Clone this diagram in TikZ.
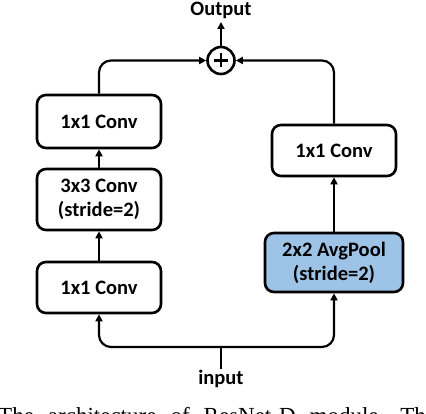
\documentclass[tikz,border=0pt]{standalone}
\usepackage{fontspec}
\setmainfont{Carlito}
\newfontfamily\capfont{Liberation Serif}
\usetikzlibrary{arrows.meta,calc}
\definecolor{poolblue}{RGB}{157,195,230}
\tikzset{
  blk/.style={draw=black, line width=2.6pt, rounded corners=9pt, font=\bfseries\fontsize{20.5}{24}\selectfont, align=center, inner sep=0pt},
  conn/.style={line width=2.2pt, rounded corners=12pt, -{Triangle[length=7pt,width=7pt]}},
  plain/.style={line width=2.2pt, rounded corners=12pt},
  lbl/.style={font=\bfseries\fontsize{20.5}{24}\selectfont, inner sep=0pt}
}
\begin{document}
\begin{tikzpicture}[x=1pt,y=-1pt]
\useasboundingbox (0,0) rectangle (426,414);
\begin{scope}
\clip (0,0) rectangle (426,414);
% left branch
\node[blk, minimum width=124pt, minimum height=53pt] (c1) at (99,121.5) {1x1 Conv};
\node[blk, minimum width=124pt, minimum height=61pt] (c3) at (99,199.5) {3x3 Conv\\(stride=2)};
\node[blk, minimum width=124pt, minimum height=51pt] (c0) at (99,287.5) {1x1 Conv};
% right branch
\node[blk, minimum width=124pt, minimum height=51pt] (r1) at (334,150.5) {1x1 Conv};
\node[blk, fill=poolblue, minimum width=138pt, minimum height=59pt] (pool) at (334,262.5) {2x2 AvgPool\\(stride=2)};
% sum
\node[draw, circle, line width=2.6pt, minimum size=27pt, inner sep=0pt] (sum) at (221,60.5) {};
\draw[line width=2.4pt] ($(sum.center)+(-7,0)$) -- ($(sum.center)+(7,0)$);
\draw[line width=2.4pt] ($(sum.center)+(0,-7)$) -- ($(sum.center)+(0,7)$);
\node[lbl] (out) at (221,10) {Output};
\node[lbl] (in) at (221,379) {input};
\coordinate (split) at (221,347);
\coordinate (inTop) at (221,369);
% connectors
\draw[conn] (c0) -- (c3);
\draw[conn] (c3) -- (c1);
\draw[conn] (pool) -- (r1);
\draw[conn] (c1.north) |- (sum.west);
\draw[conn] (r1.north) |- (sum.east);
\draw[conn] (sum.north) -- (221,22);
\draw[plain] (inTop) -- (split);
\draw[conn] (split) -| (c0.south);
\draw[conn] (split) -| (pool.south);
% cut caption (cut off at the lower edge, as in the reference)
\node[anchor=base west, font=\capfont\fontsize{23}{26}\selectfont, inner sep=0pt] (cap) at (-2,423) {\spaceskip=14pt The architecture of ResNet-D module. The};
\end{scope}
\end{tikzpicture}
\end{document}
